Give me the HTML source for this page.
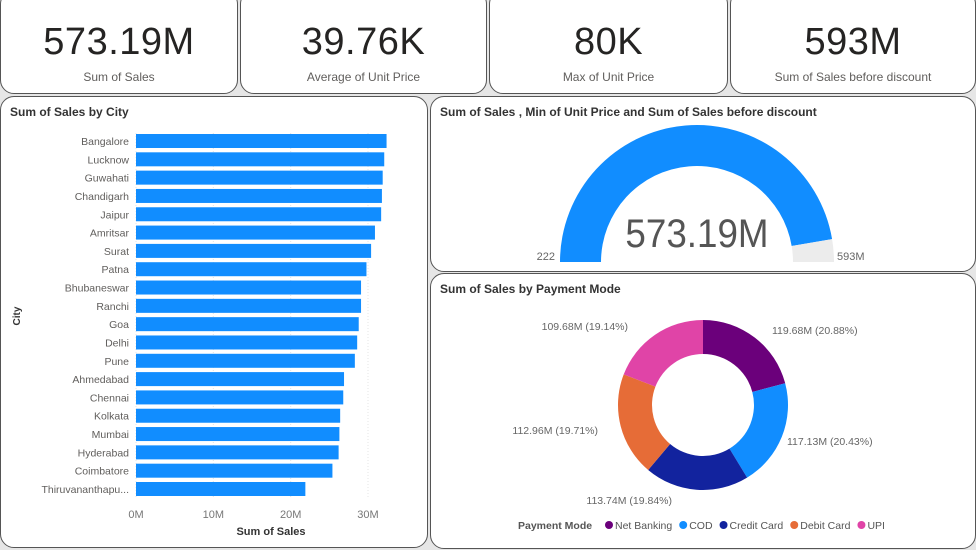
<!DOCTYPE html>
<html><head><meta charset="utf-8"><style>
body{margin:0;width:976px;height:550px;background:#e6e6e6;font-family:"Liberation Sans",sans-serif;position:relative;overflow:hidden}
.card{position:absolute;background:#fff;border:1.5px solid #555;border-radius:14px;box-sizing:border-box}
.kv{position:absolute;left:0;right:0;top:20px;text-align:center;font-size:38px;color:#252423;letter-spacing:0.5px}
.kl{position:absolute;left:0;right:0;top:69px;text-align:center;font-size:12px;color:#605e5c}
.t{position:absolute;left:9px;top:8px;font-size:12px;font-weight:bold;color:#333}
svg text{font-family:"Liberation Sans",sans-serif}
</style></head><body>
<div class="card" style="left:0;top:-10px;width:238px;height:104px"><div class="kv" style="top:30px">573.19M</div><div class="kl" style="top:79px">Sum of Sales</div></div>
<div class="card" style="left:240px;top:-10px;width:247px;height:104px"><div class="kv" style="top:30px">39.76K</div><div class="kl" style="top:79px">Average of Unit Price</div></div>
<div class="card" style="left:489px;top:-10px;width:239px;height:104px"><div class="kv" style="top:30px">80K</div><div class="kl" style="top:79px">Max of Unit Price</div></div>
<div class="card" style="left:730px;top:-10px;width:246px;height:104px"><div class="kv" style="top:30px">593M</div><div class="kl" style="top:79px">Sum of Sales before discount</div></div>

<div class="card" style="left:0;top:96px;width:428px;height:452px"><div class="t">Sum of Sales by City</div></div>
<div class="card" style="left:430px;top:96px;width:546px;height:176px"><div class="t">Sum of Sales , Min of Unit Price and Sum of Sales before discount</div></div>
<div class="card" style="left:430px;top:273px;width:546px;height:276px"><div class="t">Sum of Sales by Payment Mode</div></div>

<svg id="s" width="976" height="550" style="position:absolute;left:0;top:0"></svg>
<script>
const cities=["Bangalore","Lucknow","Guwahati","Chandigarh","Jaipur","Amritsar","Surat","Patna","Bhubaneswar","Ranchi","Goa","Delhi","Pune","Ahmedabad","Chennai","Kolkata","Mumbai","Hyderabad","Coimbatore","Thiruvananthapu..."];
const citySales=[32.4,32.1,31.9,31.8,31.7,30.9,30.4,29.8,29.1,29.1,28.8,28.6,28.3,26.9,26.8,26.4,26.3,26.2,25.4,21.9];
const xTicks=[0,10,20,30];
const gaugeMin=222, gaugeValue=573.19, gaugeMax=593;
const modes=["Net Banking","COD","Credit Card","Debit Card","UPI"];
const modeSales=[119.68,117.13,113.74,112.96,109.68];
const modeColors=["#6b007b","#118dff","#12239e","#e66c37","#e044a7"];

const S=document.getElementById('s');const NS="http://www.w3.org/2000/svg";
function mk(t,a,txt){const e=document.createElementNS(NS,t);for(const k in a)e.setAttribute(k,a[k]);if(txt!=null)e.textContent=txt;S.appendChild(e);return e;}
// bar chart
const x0=136,pxPerM=(368-136)/30,yTop=141,step=(489-141)/19;
const xs=v=>x0+v*pxPerM, ys=i=>yTop+i*step;
xTicks.forEach(t=>{const g=mk('line',{x1:xs(t),x2:xs(t),y1:133,y2:498,stroke:'#e4e4e4','stroke-dasharray':'1 2'});

const l=mk('text',{x:xs(t),y:518,'text-anchor':'middle','font-size':11,fill:'#777'},t+'M');
});
cities.forEach((c,i)=>{const r=mk('rect',{x:x0,y:ys(i)-7,width:xs(citySales[i])-x0,height:14,fill:'#118dff'});

const l=mk('text',{x:129,y:ys(i)+4,'text-anchor':'end','font-size':10.5,fill:'#605e5c'},c);
});
let e=mk('text',{x:271,y:535,'text-anchor':'middle','font-size':11,'font-weight':'bold',fill:'#333'},'Sum of Sales');

e=mk('text',{x:20,y:316,'text-anchor':'middle','font-size':10,'font-weight':'bold',fill:'#333',transform:'rotate(-90 20 316)'},'City');

// gauge
const cx=697,cy=262,R=137,r=96;
function arc(a0,a1,col){const p=(a,rad)=>[cx+rad*Math.cos(a),cy-rad*Math.sin(a)];
const [a,b]=p(a0,R),[c,d]=p(a1,R),[e2,f]=p(a1,r),[g,h]=p(a0,r);
return mk('path',{d:`M${a},${b}A${R},${R} 0 0 1 ${c},${d}L${e2},${f}A${r},${r} 0 0 0 ${g},${h}Z`,fill:col});}
const frac=(gaugeValue-gaugeMin)/(gaugeMax-gaugeMin);
e=arc(Math.PI,Math.PI*(1-frac),'#118dff');
e=arc(Math.PI*(1-frac),0,'#ececec');
e=mk('text',{x:cx,y:247,'text-anchor':'middle','font-size':40,fill:'#555',transform:`translate(${cx} 0) scale(0.92 1) translate(${-cx} 0)`},gaugeValue.toFixed(2)+'M');

e=mk('text',{x:555,y:260,'text-anchor':'end','font-size':11,fill:'#666'},String(gaugeMin));

e=mk('text',{x:837,y:260,'font-size':11,fill:'#666'},gaugeMax+'M');

// donut
const dx=703,dy=405,DR=85,Dr=51;const tot=modeSales.reduce((a,b)=>a+b,0);
let ang=0;
const lbls=[[772,334,'start'],[787,445,'start'],[672,504,'end'],[598,434,'end'],[628,330,'end']];
modeSales.forEach((v,i)=>{const a1=ang+v/tot*2*Math.PI;
const P=(a,rad)=>[dx+rad*Math.sin(a),dy-rad*Math.cos(a)];
const [a,b]=P(ang,DR),[c,d]=P(a1,DR),[e2,f]=P(a1,Dr),[g,h]=P(ang,Dr);
const s=mk('path',{d:`M${a},${b}A${DR},${DR} 0 0 1 ${c},${d}L${e2},${f}A${Dr},${Dr} 0 0 0 ${g},${h}Z`,fill:modeColors[i]});

const L=lbls[i];const t=mk('text',{x:L[0],y:L[1],'text-anchor':L[2],'font-size':10.5,fill:'#666'},v.toFixed(2)+'M ('+(v/tot*100).toFixed(2)+'%)');

ang=a1;});
e=mk('text',{x:518,y:529,'font-size':10.5,'font-weight':'bold',fill:'#555'},'Payment Mode');

let lx=605;modes.forEach((m,i)=>{const c=mk('circle',{cx:lx+4,cy:525,r:4,fill:modeColors[i]});

const t=mk('text',{x:lx+10,y:529,'font-size':10.5,fill:'#555'},m);

lx+=10+t.getComputedTextLength()+7;});
</script>
</body></html>
